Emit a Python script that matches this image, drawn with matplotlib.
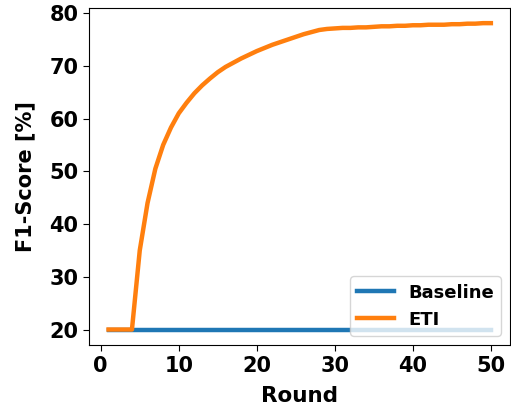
import numpy as np
import matplotlib
matplotlib.use('Agg')
import matplotlib.pyplot as plt

rounds = list(range(1, 51))
baseline = [20.0] * 50
eti = [20.0, 20.0, 20.0, 20.0, 35.0, 44.0, 50.5, 55.0, 58.3, 61.0,
       63.0, 64.8, 66.3, 67.6, 68.8, 69.8, 70.6, 71.4, 72.1, 72.8,
       73.4, 74.0, 74.5, 75.0, 75.5, 76.0, 76.4, 76.8, 77.0, 77.1,
       77.2, 77.2, 77.3, 77.3, 77.4, 77.5, 77.5, 77.6, 77.6, 77.7,
       77.7, 77.8, 77.8, 77.8, 77.9, 77.9, 78.0, 78.0, 78.1, 78.1]

plt.rcParams['font.weight'] = 'bold'
plt.rcParams['axes.labelweight'] = 'bold'

fig = plt.figure(figsize=(5.11, 4.12), dpi=100)
ax = fig.add_axes([0.175, 0.163, 0.823, 0.818])

ax.plot(rounds, baseline, color='#1f77b4', linewidth=3.2, label='Baseline')
ax.plot(rounds, eti, color='#ff7f0e', linewidth=3.2, label='ETI')

ax.set_xlabel('Round', fontsize=15.5, labelpad=7)
ax.set_ylabel('F1-Score [%]', fontsize=15, labelpad=10)
ax.tick_params(labelsize=15, length=4.5)
ax.set_xticks([0, 10, 20, 30, 40, 50])
ax.set_yticks([20, 30, 40, 50, 60, 70, 80])
ax.legend(loc='lower right', fontsize=13)

fig.savefig('out.png', dpi=100)
